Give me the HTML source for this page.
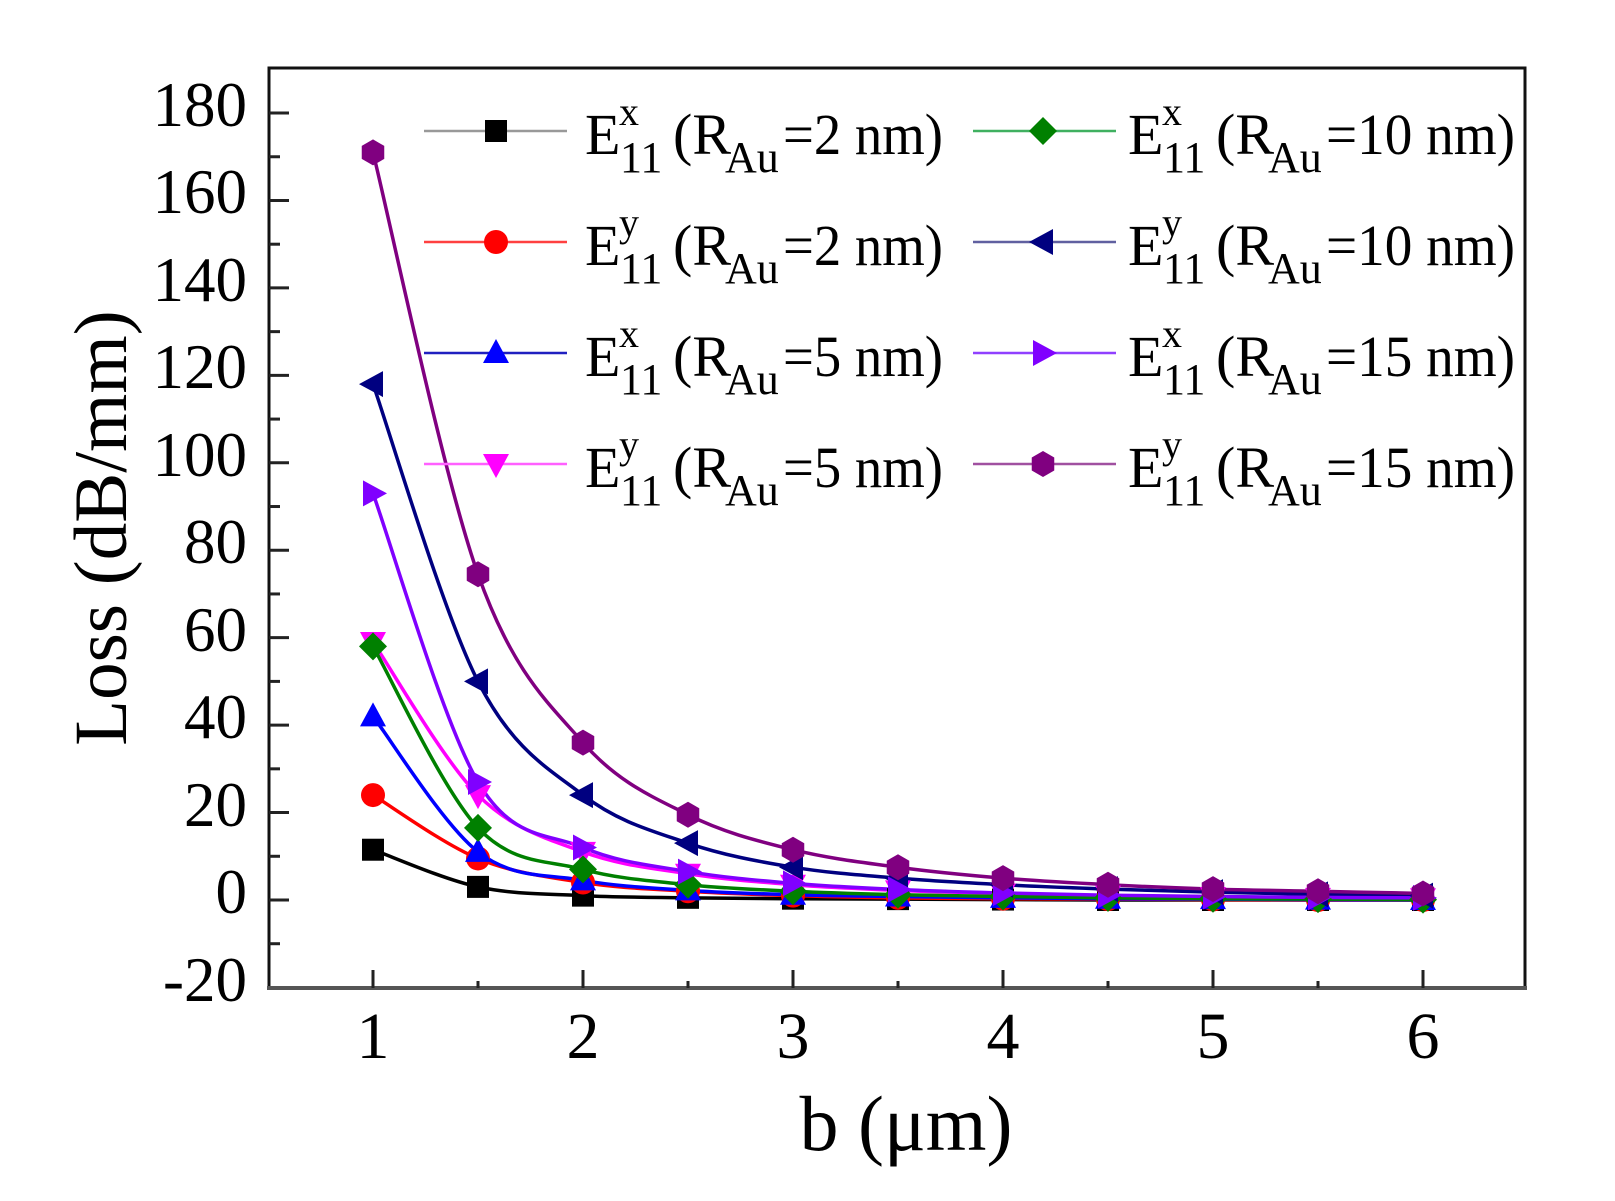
<!DOCTYPE html>
<html><head><meta charset="utf-8">
<style>html,body{margin:0;padding:0;background:#fff;}svg{display:block;}</style>
</head><body>
<svg id="s" width="1615" height="1201" viewBox="0 0 1615 1201" xmlns="http://www.w3.org/2000/svg" font-family="'Liberation Serif', serif">
<rect width="1615" height="1201" fill="#fff"/>
<g id="plot"></g>
<rect x="269" y="68" width="1256" height="920" fill="none" stroke="#111" stroke-width="3"/>
<line x1="267" y1="988" x2="1527" y2="988" stroke="#555" stroke-width="4"/>
<g id="ticks"></g>
<g font-size="63" fill="#000" text-anchor="end">
<text x="247" y="126">180</text><text x="247" y="213">160</text><text x="247" y="301">140</text>
<text x="247" y="388">120</text><text x="247" y="476">100</text><text x="247" y="563">80</text>
<text x="247" y="651">60</text><text x="247" y="738">40</text><text x="247" y="826">20</text>
<text x="247" y="913">0</text><text x="247" y="1001">-20</text>
</g>
<g font-size="66" fill="#000" text-anchor="middle">
<text x="373" y="1058">1</text><text x="583" y="1058">2</text><text x="793" y="1058">3</text>
<text x="1003" y="1058">4</text><text x="1213" y="1058">5</text><text x="1423" y="1058">6</text>
</g>
<text x="906" y="1150" font-size="78" text-anchor="middle">b (μm)</text>
<text transform="translate(126,528) rotate(-90)" font-size="75" text-anchor="middle">Loss (dB/mm)</text>
<g id="legend"></g>
</svg>
<script>
const X=b=>373+(b-1)*210, Y=v=>900-v*4.372;
const bs=[1,1.5,2,2.5,3,3.5,4,4.5,5,5.5,6];
const S=[
 {c:'#000000',m:'sq',d:[11.5,3,1,0.5,0.3,0.2,0.1,0,0,0,0]},
 {c:'#ff0000',m:'ci',d:[24,9.5,4,2,1,0.5,0.3,0.2,0.1,0,0]},
 {c:'#0000ff',m:'up',d:[42,11,4.5,2.2,1.2,0.8,0.5,0.3,0.2,0.1,0]},
 {c:'#ff00ff',m:'dn',d:[59,24,11,6,3.5,2.2,1.5,1,0.7,0.5,0.4]},
 {c:'#008000',m:'di',d:[58,16.5,7,3.5,2,1.2,0.8,0.5,0.3,0.2,0.1]},
 {c:'#000080',m:'lt',d:[118,50,24,13,7.5,5,3.5,2.5,1.8,1.3,1]},
 {c:'#8000ff',m:'rt',d:[93,27,12,6.5,3.8,2.4,1.6,1.1,0.8,0.6,0.5]},
 {c:'#800080',m:'hx',d:[171,74.5,36,19.5,11.5,7.5,5,3.5,2.5,2,1.5]}
];
function mk(t,x,y,c){let p;
 switch(t){
 case 'sq':return `<rect x="${x-11}" y="${y-11}" width="22" height="22" fill="${c}"/>`;
 case 'ci':return `<circle cx="${x}" cy="${y}" r="12" fill="${c}"/>`;
 case 'up':p=[[x,y-14],[x+13,y+10],[x-13,y+10]];break;
 case 'dn':p=[[x,y+14],[x+13,y-10],[x-13,y-10]];break;
 case 'di':p=[[x,y-14],[x+14,y],[x,y+14],[x-14,y]];break;
 case 'lt':p=[[x-14,y],[x+10,y-13],[x+10,y+13]];break;
 case 'rt':p=[[x+14,y],[x-10,y-13],[x-10,y+13]];break;
 case 'hx':p=[];for(let i=0;i<6;i++){const a=Math.PI/6+i*Math.PI/3;p.push([x+13*Math.cos(a),y+13*Math.sin(a)]);}break;}
 return `<polygon points="${p.map(q=>q.join(',')).join(' ')}" fill="${c}"/>`;}
let h='';
for(const s of S){const P=bs.map((b,i)=>[X(b),Y(s.d[i])]);
 let d=`M${P[0][0]},${P[0][1]}`;
 for(let i=0;i<P.length-1;i++){const p0=P[Math.max(i-1,0)],p1=P[i],p2=P[i+1],p3=P[Math.min(i+2,P.length-1)];
  const c1=[p1[0]+(p2[0]-p0[0])/6,p1[1]+(p2[1]-p0[1])/6],c2=[p2[0]-(p3[0]-p1[0])/6,p2[1]-(p3[1]-p1[1])/6];
  d+=` C${c1[0]},${c1[1]} ${c2[0]},${c2[1]} ${p2[0]},${p2[1]}`;}
 h+=`<path d="${d}" fill="none" stroke="${s.c}" stroke-width="3.5"/>`;}
for(const s of S){bs.forEach((b,i)=>h+=mk(s.m,X(b),Y(s.d[i]),s.c));}
document.getElementById('plot').innerHTML=h;
let t='';
for(let v=-10;v<=180;v+=10){const y=Y(v),L=(v%20==0)?20:11;t+=`<line x1="269" y1="${y}" x2="${269+L}" y2="${y}" stroke="#222" stroke-width="3"/>`;}
for(let b=1;b<=6;b+=0.5){const x=X(b),L=(b%1==0)?18:7;t+=`<line x1="${x}" y1="988" x2="${x}" y2="${988-L}" stroke="#222" stroke-width="3"/>`;}
document.getElementById('ticks').innerHTML=t;
const lc=['#999999','#ff4040','#2020c0','#ff60ff','#40b060','#6060a0','#9040ff','#a050a0'];
const lab=[['x','2'],['y','2'],['x','5'],['y','5'],['x','10'],['y','10'],['x','15'],['y','15']];
let g='';
for(let i=0;i<8;i++){const col=i<4?0:1,row=i%4,off=col?543:0,ly=131+row*111,bl=154+row*111;
 const s=S[i];
 const lx1=col?973:424, lx2=col?1116:567, mx=col?1043:496;
 g+=`<line x1="${lx1}" y1="${ly}" x2="${lx2}" y2="${ly}" stroke="${lc[i]}" stroke-width="2.5"/>`;
 g+=mk(s.m,mx,ly,s.c);
 const tx=585+off;
 g+=`<text x="${tx}" y="${bl}" font-size="58">E</text>`;
 g+=`<text x="${tx+34}" y="${bl-29}" font-size="40">${lab[i][0]}</text>`;
 g+=`<text x="${tx+35}" y="${bl+18}" font-size="44">11</text>`;
 g+=`<text x="${tx+88}" y="${bl}" font-size="58">(R</text>`;
 g+=`<text x="${tx+140}" y="${bl+18}" font-size="44">Au</text>`;
 g+=`<text x="${tx+198}" y="${bl}" font-size="58" textLength="${lab[i][1].length>1?189:160}" lengthAdjust="spacingAndGlyphs">=${lab[i][1]} nm)</text>`;}
document.getElementById('legend').innerHTML=g;
</script>
</body></html>
